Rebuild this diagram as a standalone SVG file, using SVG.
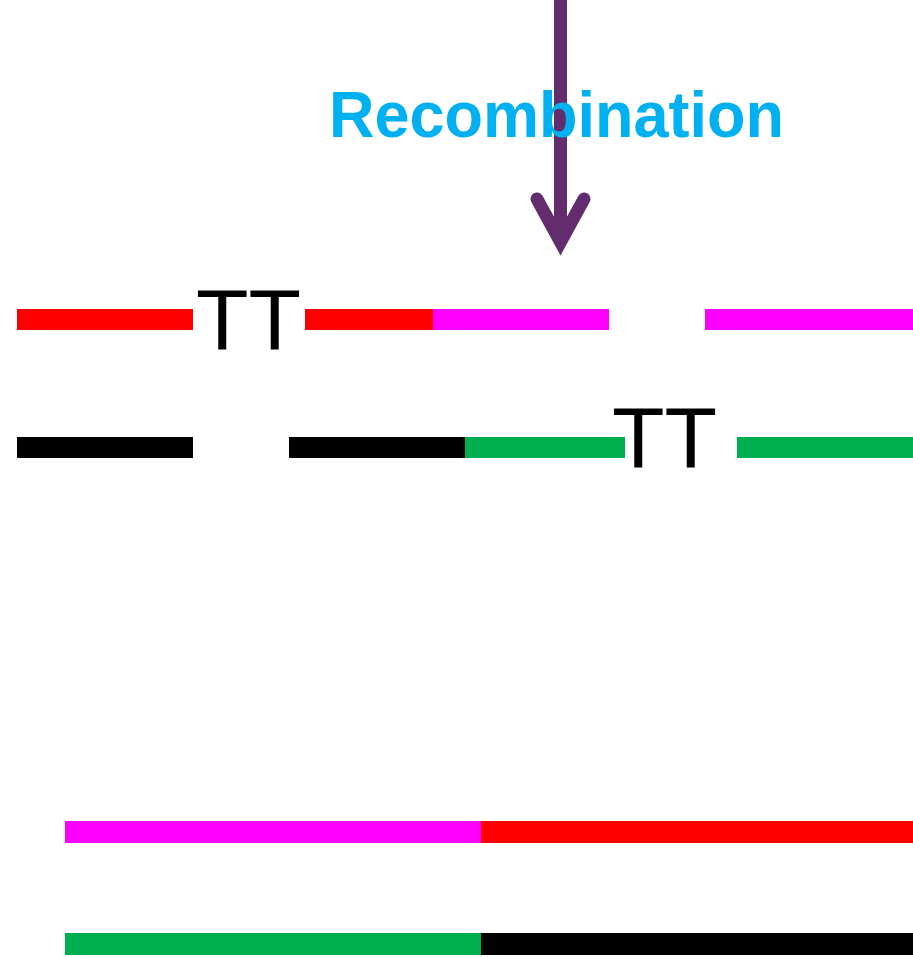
<svg xmlns="http://www.w3.org/2000/svg" width="913" height="957" viewBox="0 0 913 957">
<style>
.tt{font-family:"Liberation Sans",Arial,sans-serif;font-size:86px;fill:#000}
.lbl{font-family:"Liberation Sans",Arial,sans-serif;font-size:64px;font-weight:bold;fill:#00B0F0}
.arr{stroke:#632C6C;stroke-width:13;fill:none;stroke-linecap:round;stroke-linejoin:miter}
</style>
<rect width="913" height="957" fill="#fff"/>
<g id="connectors">
<path class="arr" d="M560.5,-10 V240"/>
<path class="arr" d="M537,199 L560.5,242 L584,199"/>
</g>
<g id="label"><text class="lbl" x="329" y="137" textLength="455" lengthAdjust="spacingAndGlyphs">Recombination</text></g>
<g id="strand1">
<rect x="17" y="309" width="176" height="21" fill="#FF0000"/>
<text class="tt" x="196" y="349">TT</text>
<rect x="305" y="309" width="128" height="21" fill="#FF0000"/>
<rect x="433" y="309" width="176" height="21" fill="#FF00FF"/>
<rect x="705" y="309" width="208" height="21" fill="#FF00FF"/>
</g>
<g id="strand2">
<rect x="17" y="437" width="176" height="21" fill="#000"/>
<rect x="289" y="437" width="176" height="21" fill="#000"/>
<rect x="465" y="437" width="160" height="21" fill="#00B050"/>
<text class="tt" x="612" y="467">TT</text>
<rect x="737" y="437" width="176" height="21" fill="#00B050"/>
</g>
<g id="product1">
<rect x="65" y="821" width="416" height="22" fill="#FF00FF"/>
<rect x="481" y="821" width="432" height="22" fill="#FF0000"/>
</g>
<g id="product2">
<rect x="65" y="933" width="416" height="22" fill="#00B050"/>
<rect x="481" y="933" width="432" height="22" fill="#000"/>
</g>
</svg>
